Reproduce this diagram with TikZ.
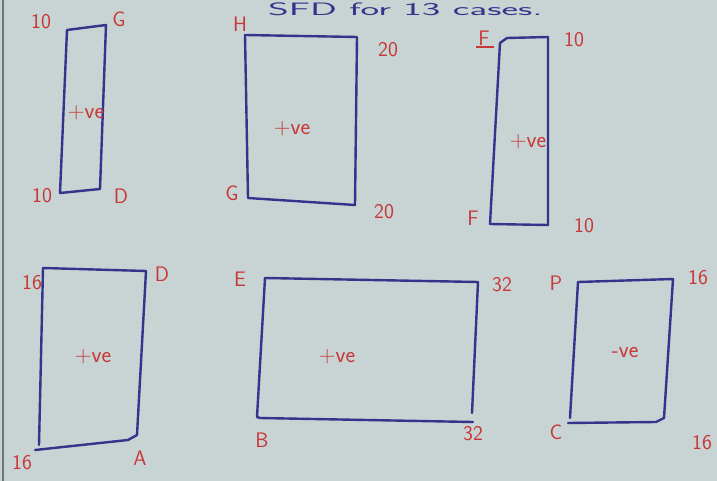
\documentclass[tikz,border=0pt]{standalone}
\usepackage{fontspec}
\usepackage{graphicx}
\definecolor{paper}{RGB}{200,211,211}
\definecolor{ink}{RGB}{52,52,140}
\definecolor{redink}{RGB}{200,55,55}
\tikzset{
  box/.style={draw=ink, line width=2.4pt, line join=round, line cap=round},
  lbl/.style={text=redink, font=\sffamily\fontsize{21}{24}\selectfont, inner sep=0pt},
  sgn/.style={text=redink, font=\sffamily\fontsize{23}{26}\selectfont, inner sep=0pt},
}
\begin{document}
\begin{tikzpicture}[x=1pt,y=-1pt]
\useasboundingbox (0,0) rectangle (717,481);
\fill[paper] (0,0) rectangle (717,481);
\draw[black!55, line width=1.5pt] (3,0) -- (3,481);
% heading at top
\node[text=ink, font=\sffamily\fontsize{18}{20}\selectfont, inner sep=0pt, anchor=north west] (head) at (268,3) {\scalebox{2.2}[1]{SFD for 13 cases.}};
% box 1
\draw[box] (67,30) -- (106,25) -- (100,189) -- (60,193) -- cycle;
\node[lbl] (l1a) at (41,22) {10};
\node[lbl] (l1b) at (119,19) {G};
\node[lbl] (l1c) at (42,196) {10};
\node[lbl] (l1d) at (121,196) {D};
\node[sgn] (s1) at (86,113) {+ve};
% box 2
\draw[box] (245,35) -- (357,37) -- (355,205) -- (248,198) -- cycle;
\node[lbl] (l2a) at (240,24) {H};
\node[lbl] (l2b) at (388,50) {20};
\node[lbl] (l2c) at (232,193) {G};
\node[lbl] (l2d) at (384,212) {20};
\node[sgn] (s2) at (292,129) {+ve};
% box 3
\draw[box] (500,43) -- (507,38) -- (548,37) -- (548,225) -- (490,224) -- cycle;
\node[lbl] (l3a) at (484,38) {F};
\draw[redink, line width=1.3pt] (476,47) -- (494,47);
\node[lbl] (l3b) at (574,40) {10};
\node[lbl] (l3c) at (473,218) {F};
\node[lbl] (l3d) at (584,226) {10};
\node[sgn] (s3) at (528,142) {+ve};
% box 4
\draw[box] (43,268) -- (146,271) -- (137,435) -- (128,440) -- (35,450);
\draw[box] (43,268) -- (39,445);
\node[lbl] (l4a) at (32,283) {16};
\node[lbl] (l4b) at (162,274) {D};
\node[lbl] (l4c) at (22,463) {16};
\node[lbl] (l4d) at (140,458) {A};
\node[sgn] (s4) at (93,357) {+ve};
% box 5
\draw[box] (265,278) -- (478,282) -- (472,413);
\draw[box] (265,278) -- (257,417) -- (260,418) -- (473,422);
\node[lbl] (l5a) at (240,279) {E};
\node[lbl] (l5b) at (502,285) {32};
\node[lbl] (l5c) at (262,440) {B};
\node[lbl] (l5d) at (473,434) {32};
\node[sgn] (s5) at (337,357) {+ve};
% box 6
\draw[box] (578,282) -- (673,279) -- (664,418) -- (656,422) -- (568,423);
\draw[box] (578,282) -- (570,418);
\node[lbl] (l6a) at (556,283) {P};
\node[lbl] (l6b) at (698,278) {16};
\node[lbl] (l6c) at (556,432) {C};
\node[lbl] (l6d) at (702,443) {16};
\node[sgn] (s6) at (625,353) {-ve};
\end{tikzpicture}
\end{document}
